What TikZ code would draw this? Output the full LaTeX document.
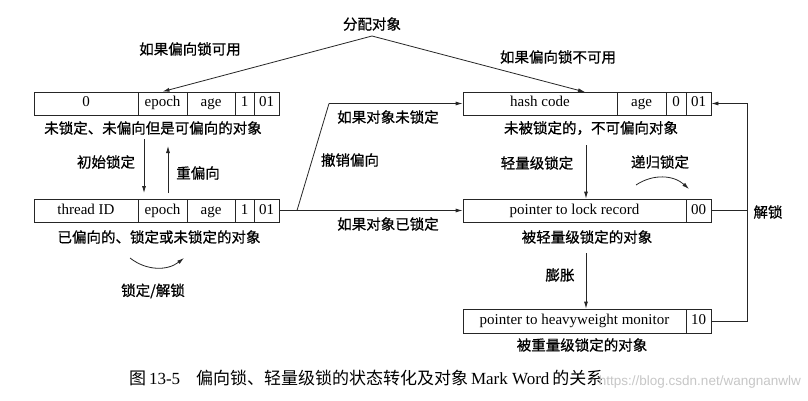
\documentclass[tikz,border=0pt]{standalone}
\usepackage{fontspec}
\setmainfont{Liberation Serif}
\newfontfamily\cjk[FakeBold=0.7]{Noto Sans CJK SC}
\newfontfamily\cjkcap{Noto Sans CJK SC}
\newfontfamily\wmfont{Liberation Sans}
\usetikzlibrary{arrows.meta,calc}
\begin{document}
\begin{tikzpicture}[x=1pt,y=-1pt,
  cell/.style={draw=black!85, line width=0.8pt, minimum height=23pt, inner sep=0pt,
    text height=10.5pt, text depth=3.5pt, font=\fontsize{15}{16}\selectfont},
  lbl/.style={font=\cjk\fontsize{14.5}{15}\selectfont, inner sep=1pt},
  arr/.style={draw=black!85, line width=0.8pt, -{Latex[length=7pt,width=4pt]}},
  ln/.style={draw=black!85, line width=0.8pt}]
\fill[white] (0,0) rectangle (808,401);
\useasboundingbox (0,0) rectangle (808,401);

% ---- box A: unlocked, biasable
\node[cell, minimum width=104pt] (A1) at (86,103.5) {0};
\node[cell, minimum width=49pt] (A2) at (162.5,103.5) {epoch};
\node[cell, minimum width=48pt] (A3) at (211,103.5) {age};
\node[cell, minimum width=19pt] (A4) at (244.5,103.5) {1};
\node[cell, minimum width=25pt] (A5) at (266.5,103.5) {01};
\node[lbl] (Alab) at (153,128) {未锁定、未偏向但是可偏向的对象};

% ---- box B: biased
\node[cell, minimum width=104pt] (B1) at (86,210.5) {thread ID};
\node[cell, minimum width=49pt] (B2) at (162.5,210.5) {epoch};
\node[cell, minimum width=48pt] (B3) at (211,210.5) {age};
\node[cell, minimum width=19pt] (B4) at (244.5,210.5) {1};
\node[cell, minimum width=25pt] (B5) at (266.5,210.5) {01};
\node[lbl] (Blab) at (159,237) {已偏向的、锁定或未锁定的对象};

% ---- box C: unlocked, not biasable
\node[cell, minimum width=154pt] (C1) at (540,103.5) {hash code};
\node[cell, minimum width=49pt] (C2) at (641.5,103.5) {age};
\node[cell, minimum width=20pt] (C3) at (676,103.5) {0};
\node[cell, minimum width=25pt] (C4) at (698.5,103.5) {01};
\node[lbl] (Clab) at (591,128) {未被锁定的，不可偏向对象};

% ---- box D: lightweight locked
\node[cell, minimum width=223pt] (D1) at (574.5,210.5) {pointer to lock record};
\node[cell, minimum width=25pt] (D2) at (698.5,210.5) {00};
\node[lbl] (Dlab) at (587,237) {被轻量级锁定的对象};

% ---- box E: heavyweight locked
\node[cell, minimum width=223pt, minimum height=24pt] (E1) at (574.5,321) {pointer to heavyweight monitor};
\node[cell, minimum width=25pt, minimum height=24pt] (E2) at (698.5,321) {10};
\node[lbl] (Elab) at (582,345) {被重量级锁定的对象};

% ---- allocation
\node[lbl] (alloc) at (372,24) {分配对象};
\coordinate (apex) at (372,36);
\coordinate (cin) at (585,92);
\draw[arr] (apex) -- (A2.north);
\draw[arr] (apex) -- (cin);
\node[lbl] (l1) at (190,49) {如果偏向锁可用};
\node[lbl] (l2) at (558,57) {如果偏向锁不可用};

% ---- A <-> B
\coordinate (ad1) at (144,139);
\coordinate (ad2) at (144,193);
\coordinate (au1) at (168,193);
\coordinate (au2) at (168,146);
\draw[arr] (ad1) -- (ad2);
\draw[arr] (au1) -- (au2);
\node[lbl] (l3) at (106,162) {初始锁定};
\node[lbl] (l4) at (198,173) {重偏向};

% ---- lock / unlock loop
\coordinate (lu1) at (130,258);
\coordinate (lu2) at (184,258);
\draw[arr] (lu1) to[bend right=38] (lu2);
\node[lbl] (l5) at (153,291) {锁定/解锁};

% ---- revoke bias
\coordinate (fork) at (297,210.5);
\coordinate (bend) at (329,103.5);
\draw[arr] (B5.east) -- (D1.west);
\draw[ln] (fork) -- (bend);
\draw[arr] (bend) -- (C1.west);
\node[lbl] (l6) at (388,117) {如果对象未锁定};
\node[lbl] (l7) at (350,160) {撤销偏向};
\node[lbl] (l8) at (388,224) {如果对象已锁定};

% ---- C -> D -> E
\coordinate (cd1) at (586,145);
\draw[arr] (cd1) -- (cd1 |- D1.north);
\node[lbl] (l9) at (537,163) {轻量级锁定};
\coordinate (de1) at (586,253);
\draw[arr] (de1) -- (de1 |- E1.north);
\node[lbl] (l10) at (560,275) {膨胀};

% ---- recursive lock
\coordinate (rl1) at (636,185);
\coordinate (rl2) at (689,189);
\draw[arr] (rl1) to[bend left=38] (rl2);
\node[lbl] (l11) at (660,162) {递归锁定};

% ---- unlock back to C
\coordinate (ucD) at (747,210.5);
\coordinate (ucE) at (747,321);
\coordinate (ucC) at (747,103.5);
\draw[ln] (D2.east) -- (ucD);
\draw[arr] (E2.east) -- (ucE) -- (ucC) -- (C4.east);
\node[lbl] (l12) at (768,212) {解锁};

% ---- caption and watermark
\node[anchor=west, inner sep=0pt, font=\fontsize{17}{18}\selectfont] (cap) at (129,378)
  {{\cjkcap 图}\,13-5\hspace{16pt}{\cjkcap 偏向锁、轻量级锁的状态转化及对象}\,Mark Word\,{\cjkcap 的关系}};
\node[anchor=east, inner sep=0pt, text=black!22, font=\wmfont\fontsize{13.5}{15}\selectfont] (wm) at (801,382)
  {https://blog.csdn.net/wangnanwlw};
\end{tikzpicture}
\end{document}
